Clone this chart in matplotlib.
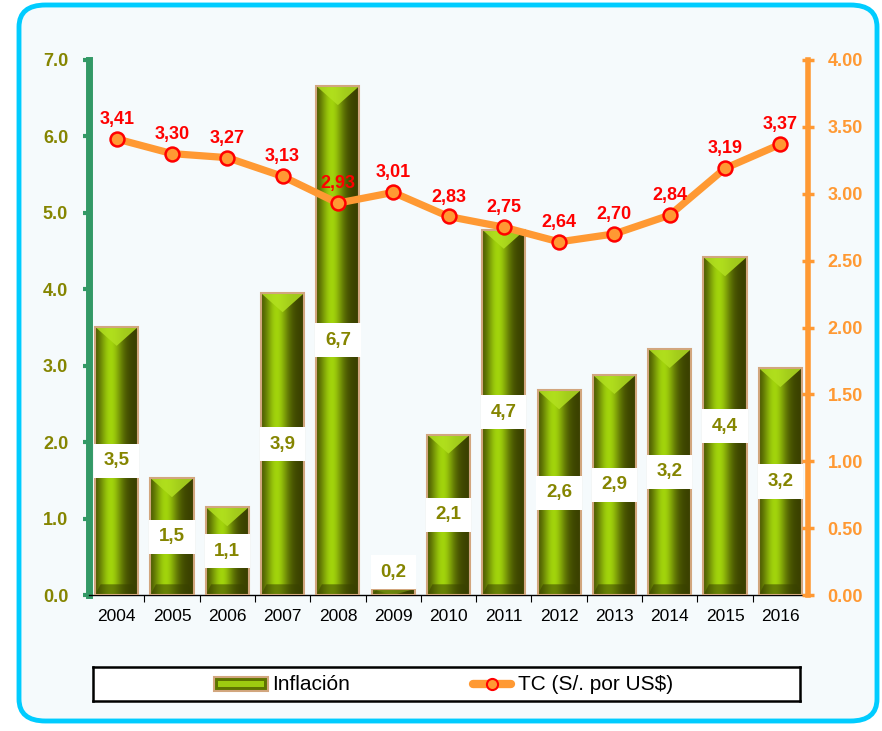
import numpy as np
import matplotlib
matplotlib.use("Agg")
import matplotlib.pyplot as plt
from matplotlib.patches import FancyBboxPatch, Rectangle, Polygon

plt.rcParams['font.family'] = ['Liberation Sans', 'DejaVu Sans']

years = ['2004', '2005', '2006', '2007', '2008', '2009', '2010',
         '2011', '2012', '2013', '2014', '2015', '2016']
inflacion = [3.51, 1.53, 1.15, 3.95, 6.66, 0.08, 2.10, 4.78, 2.68, 2.88, 3.22, 4.42, 2.97]
inflacion_labels = ['3,5', '1,5', '1,1', '3,9', '6,7', '0,2', '2,1', '4,7', '2,6', '2,9', '3,2', '4,4', '3,2']
tc = [3.41, 3.30, 3.27, 3.13, 2.93, 3.01, 2.83, 2.75, 2.64, 2.70, 2.84, 3.19, 3.37]
tc_labels = ['3,41', '3,30', '3,27', '3,13', '2,93', '3,01', '2,83', '2,75', '2,64', '2,70', '2,84', '3,19', '3,37']
left_ticks = [0.0, 1.0, 2.0, 3.0, 4.0, 5.0, 6.0, 7.0]
right_ticks = [0.0, 0.5, 1.0, 1.5, 2.0, 2.5, 3.0, 3.5, 4.0]

OLIVE = '#858500'
ORANGE = '#FF9933'
GREEN_SPINE = '#339966'
RED = '#FF0000'
TAN = '#D2A67E'

W, H = 882, 731
fig = plt.figure(figsize=(W / 100, H / 100), dpi=100)
fig.patch.set_facecolor('white')

frame = FancyBboxPatch((19 / W, 10 / H), 858 / W, 716 / H,
                       boxstyle="round,pad=0,rounding_size=0.03",
                       transform=fig.transFigure, facecolor='#F5FAFC',
                       edgecolor='#00CCFF', linewidth=3.5, zorder=-10)
fig.patches.append(frame)

ax = fig.add_axes([89 / W, 1 - 595 / H, (808 - 89) / W, (595 - 60) / H])
ax.set_facecolor('none')
x = np.arange(len(years))
bw = 0.78

# gradient for bars (left -> right)
grad = np.linspace(0, 1, 256)
dark = np.array([0x3A, 0x40, 0x00]) / 255
bright = np.array([0xA2, 0xD4, 0x0C]) / 255
cols = []
for g in grad:
    t = np.exp(-((g - 0.36) / 0.27) ** 2)
    cols.append(dark + (bright - dark) * t)
gimg = np.array(cols)[None, :, :]

bars = ax.bar(x, inflacion, width=bw, color='none', edgecolor=TAN,
              linewidth=1.5, zorder=3)
for b in bars:
    bx, by = b.get_x(), b.get_y()
    bwid, bh = b.get_width(), b.get_height()
    im = ax.imshow(gimg, extent=(bx, bx + bwid, by, by + bh), aspect='auto',
                   zorder=2, interpolation='bilinear')
    im.set_clip_path(b)
    tri_h = min(0.25, bh)
    top = Polygon([(bx, by + bh), (bx + bwid, by + bh),
                   (bx + bwid / 2, by + bh - tri_h)], closed=True,
                  facecolor='#B2E020', edgecolor='none', alpha=0.85, zorder=2.5)
    ax.add_patch(top)
    bot_h = min(0.14, bh)
    bot = Polygon([(bx, by), (bx + bwid, by), (bx + bwid - 0.1, by + bot_h),
                   (bx + 0.1, by + bot_h)], closed=True,
                  facecolor='#384000', edgecolor='none', alpha=0.55, zorder=2.5)
    ax.add_patch(bot)
ax.set_xlim(-0.5, len(years) - 0.5)
ax.set_ylim(0, 7)

# white label boxes centred in bars
box_h = 0.445
for xi, v, lab in zip(x, inflacion, inflacion_labels):
    yc = max(v / 2, 0.30)
    ax.add_patch(Rectangle((xi - bw / 2 - 0.02, yc - box_h / 2), bw + 0.04, box_h,
                           facecolor='white', edgecolor='none', zorder=5))
    ax.text(xi, yc, lab, ha='center', va='center', fontsize=13.5, fontweight='bold',
            color=OLIVE, zorder=6)

for s in ['top', 'right']:
    ax.spines[s].set_visible(False)
ax.spines['left'].set_color(GREEN_SPINE)
ax.spines['left'].set_linewidth(5)
ax.spines['bottom'].set_color('black')
ax.spines['bottom'].set_linewidth(1)
ax.set_yticks(left_ticks)
ax.set_yticklabels([f'{t:.1f}' for t in left_ticks])
ax.tick_params(axis='y', colors=GREEN_SPINE, length=4, width=3, direction='out',
               labelsize=13, pad=11)
for lab in ax.get_yticklabels():
    lab.set_color(OLIVE)
    lab.set_fontweight('bold')
ax.set_xticks(x)
ax.set_xticklabels(years)
ax.tick_params(axis='x', length=0, labelsize=12.5, pad=10, colors='black')
ax.set_xticks(np.arange(0.5, len(years) - 0.5, 1), minor=True)
ax.tick_params(axis='x', which='minor', length=5, width=0.8, color='black', direction='out')

ax2 = ax.twinx()
ax2.set_ylim(0, 4)
ax2.set_xlim(-0.5, len(years) - 0.5)
for s in ['top', 'left', 'bottom']:
    ax2.spines[s].set_visible(False)
ax2.spines['right'].set_color(ORANGE)
ax2.spines['right'].set_linewidth(4)
ax2.set_yticks(right_ticks)
ax2.set_yticklabels([f'{t:.2f}' for t in right_ticks])
ax2.tick_params(axis='y', colors=ORANGE, length=8, width=2.5, direction='inout',
                labelsize=13, pad=10)
for lab in ax2.get_yticklabels():
    lab.set_fontweight('bold')
ax2.plot(x, tc, color=ORANGE, linewidth=5.2, marker='o', markersize=10,
         markerfacecolor=ORANGE, markeredgecolor=RED, markeredgewidth=1.8,
         zorder=5, solid_capstyle='round')
for xi, v, lab in zip(x, tc, tc_labels):
    ax2.annotate(lab, (xi, v), xytext=(0, 14), textcoords='offset points',
                 ha='center', va='center', fontsize=13, fontweight='bold',
                 color=RED, zorder=7)

lax = fig.add_axes([93 / W, 1 - 701 / H, (800 - 93) / W, 34 / H])
lax.set_xlim(0, 707)
lax.set_ylim(0, 34)
lax.set_xticks([])
lax.set_yticks([])
for s in lax.spines.values():
    s.set_linewidth(1.8)
    s.set_color('black')
lax.set_facecolor('white')
lax.add_patch(Rectangle((121, 10), 54, 14, facecolor='#5E7400', edgecolor=TAN, linewidth=1.5))
lax.add_patch(Rectangle((125, 14), 46, 6, facecolor='#9DCC10', edgecolor='none'))
lax.text(179, 17, 'Inflación', ha='left', va='center', fontsize=15, color='black')
lax.plot([380, 418], [17, 17], color=ORANGE, linewidth=6, solid_capstyle='round')
lax.plot([399], [17], marker='o', markersize=8, markerfacecolor=ORANGE,
         markeredgecolor=RED, markeredgewidth=1.5)
lax.text(425, 17, 'TC (S/. por US$)', ha='left', va='center', fontsize=15, color='black')

fig.savefig('out.png', dpi=100, facecolor=fig.get_facecolor())
